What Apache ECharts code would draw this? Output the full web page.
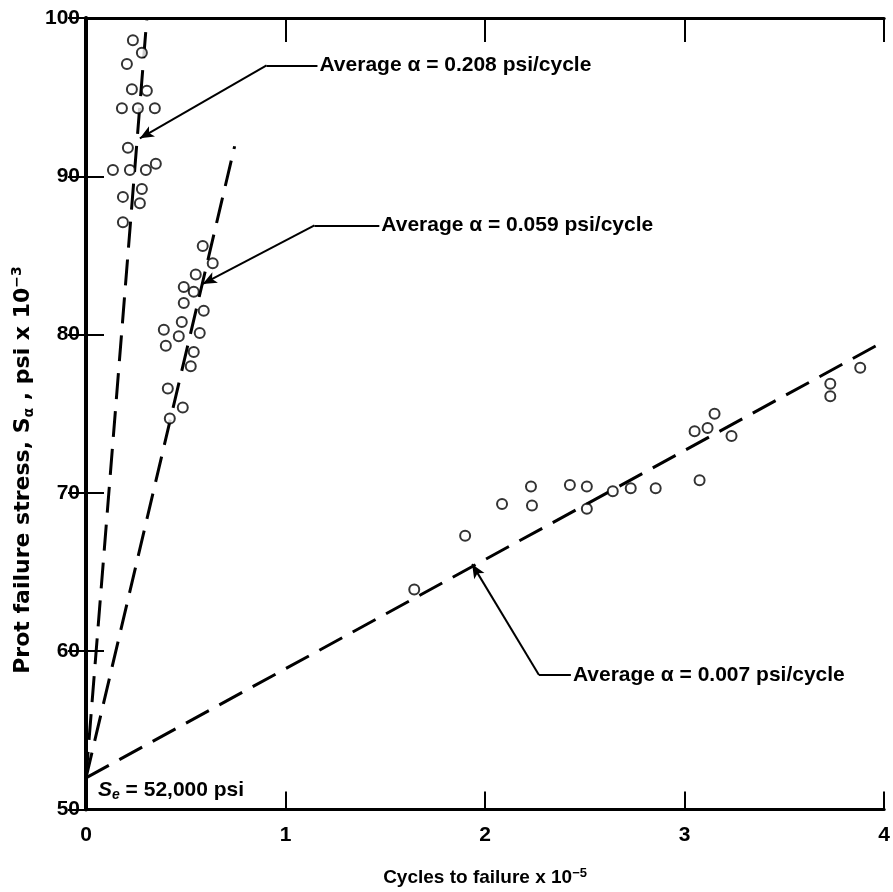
<!DOCTYPE html>
<html>
<head>
<meta charset="utf-8">
<script src="https://cdn.jsdelivr.net/npm/echarts@6/dist/echarts.min.js"></script>
<style>
  html, body { margin: 0; padding: 0; background: #fff; }
  #chart { width: 893px; height: 892px; }
</style>
</head>
<body>
<div id="chart"></div>
<script>
// cycles x 1e-5, stress in ksi
const xTicks = [0, 1, 2, 3, 4]
const yTicks = [50, 60, 70, 80, 90, 100]

const pointsSteep = [
  [0.235, 98.6], [0.28, 97.8], [0.205, 97.1], [0.23, 95.5], [0.305, 95.4],
  [0.18, 94.3], [0.26, 94.3], [0.345, 94.3], [0.21, 91.8],
  [0.135, 90.4], [0.22, 90.4], [0.30, 90.4], [0.35, 90.8],
  [0.28, 89.2], [0.185, 88.7], [0.27, 88.3], [0.185, 87.1]
]
const pointsMid = [
  [0.585, 85.6], [0.635, 84.5], [0.55, 83.8], [0.49, 83.0], [0.54, 82.7],
  [0.49, 82.0], [0.59, 81.5], [0.48, 80.8], [0.39, 80.3], [0.465, 79.9],
  [0.57, 80.1], [0.40, 79.3], [0.54, 78.9], [0.525, 78.0], [0.41, 76.6],
  [0.485, 75.4], [0.42, 74.7]
]
const pointsFlat = [
  [3.88, 77.9], [3.73, 76.9], [3.73, 76.1], [3.15, 75.0], [3.115, 74.1],
  [3.05, 73.9], [3.235, 73.6], [3.075, 70.8], [2.23, 70.4], [2.425, 70.5],
  [2.51, 70.4], [2.085, 69.3], [2.235, 69.2], [2.51, 69.0], [2.64, 70.1],
  [2.73, 70.3], [2.855, 70.3], [1.90, 67.3], [1.645, 63.9]
]

const fitSteep = [[0, 52], [0.305, 100]]
const fitMid = [[0, 52], [0.745, 91.9]]
const fitFlat = [[0, 52], [3.96, 79.3]]

const noteTexts = [
  'Average α = 0.208 psi/cycle',
  'Average α = 0.059 psi/cycle',
  'Average α = 0.007 psi/cycle'
]
// text start, elbow, arrow tip
const leaders = [
  [[1.16, 97.0], [0.905, 97.0], [0.27, 92.4]],
  [[1.47, 86.9], [1.145, 86.9], [0.585, 83.2]],
  [[2.43, 58.5], [2.27, 58.5], [1.935, 65.5]]
]
const enduranceLabel = [0.06, 51.2]

const font = "'Liberation Sans', Arial, sans-serif"
const wideFont = "'DejaVu Sans', Verdana, sans-serif"

const chart = echarts.init(document.getElementById('chart'))

const axisLineStyle = { color: '#000', width: 3 }
const tickLabel = { color: '#000', fontFamily: font, fontWeight: 'bold', fontSize: 21 }

function dashed(data) {
  return {
    type: 'line',
    data,
    symbol: 'none',
    silent: true,
    lineStyle: { color: '#000', width: 3, type: [26, 12] },
    z: 2
  }
}

function scatter(data) {
  return {
    type: 'scatter',
    data,
    symbol: 'circle',
    symbolSize: 10,
    itemStyle: { color: '#fff', borderColor: '#000', borderWidth: 2 },
    z: 3
  }
}

const leaderLines = []
leaders.forEach((l) => {
  leaderLines.push([
    { coord: l[0], symbol: 'none' },
    { coord: l[1], symbol: 'none' }
  ])
  leaderLines.push([
    { coord: l[1], symbol: 'none' },
    { coord: l[2], symbol: 'arrow' }
  ])
})

const option = {
  animation: false,
  backgroundColor: '#fff',
  grid: { left: 86, right: 6, top: 18, bottom: 80 },
  xAxis: [{
    type: 'value',
    min: 0, max: 4, interval: 1,
    axisLine: { lineStyle: axisLineStyle },
    axisTick: { inside: true, length: 18, lineStyle: { color: '#000', width: 2 } },
    axisLabel: { ...tickLabel, margin: 15 },
    splitLine: { show: false },
    name: '{t|Cycles to failure x 10}{s|−5}',
    nameLocation: 'middle',
    nameGap: 57,
    nameTextStyle: {
      rich: {
        t: { fontFamily: font, fontWeight: 'bold', fontSize: 19, color: '#000', lineHeight: 22 },
        s: { fontFamily: font, fontWeight: 'bold', fontSize: 13, color: '#000', verticalAlign: 'top', lineHeight: 22 }
      }
    }
  }, {
    type: 'value',
    position: 'top',
    min: 0, max: 4, interval: 1,
    axisLine: { lineStyle: axisLineStyle },
    axisTick: { inside: true, length: 24, lineStyle: { color: '#000', width: 2 } },
    axisLabel: { show: false },
    splitLine: { show: false }
  }],
  yAxis: [{
    type: 'value',
    min: 50, max: 100, interval: 10,
    axisLine: { lineStyle: { color: '#000', width: 4 } },
    axisTick: { inside: true, length: 18, lineStyle: { color: '#000', width: 2 } },
    axisLabel: { ...tickLabel, margin: 6 },
    splitLine: { show: false }
  }, {
    type: 'value',
    position: 'right',
    min: 50, max: 100, interval: 10,
    axisLine: { lineStyle: axisLineStyle },
    axisTick: { inside: true, length: 18, lineStyle: { color: '#000', width: 2 } },
    axisLabel: { show: false },
    splitLine: { show: false }
  }],
  series: [
    dashed(fitSteep),
    dashed(fitMid),
    dashed(fitFlat),
    scatter(pointsSteep),
    scatter(pointsMid),
    scatter(pointsFlat),
    {
      type: 'line',
      data: [],
      silent: true,
      markLine: {
        silent: true,
        symbolSize: [9, 14],
        label: { show: false },
        lineStyle: { color: '#000', width: 2, type: 'solid' },
        data: leaderLines
      },
      z: 4
    }
  ]
}

chart.setOption(option)

// texts placed at data coordinates
const textStyle = { fontFamily: font, fontWeight: 'bold', fontSize: 21, fill: '#000' }
const graphics = [{
  type: 'text',
  x: 23,
  y: 470,
  rotation: Math.PI / 2,
  style: {
    text: '{t|Prot failure stress, S}{b|α}{t| , psi x 10}{s|−3}',
    align: 'center',
    verticalAlign: 'middle',
    rich: {
      t: { fontFamily: wideFont, fontWeight: 'bold', fontSize: 22, fill: '#000', lineHeight: 26 },
      b: { fontFamily: wideFont, fontWeight: 'bold', fontSize: 14, fill: '#000', verticalAlign: 'bottom', lineHeight: 26 },
      s: { fontFamily: wideFont, fontWeight: 'bold', fontSize: 14, fill: '#000', verticalAlign: 'top', lineHeight: 26 }
    }
  }
}]
leaders.forEach((l, i) => {
  const p = chart.convertToPixel({ gridIndex: 0 }, l[0])
  graphics.push({
    type: 'text',
    x: p[0] + 2,
    y: p[1],
    style: { ...textStyle, text: noteTexts[i], align: 'left', verticalAlign: 'middle' }
  })
})
const sp = chart.convertToPixel({ gridIndex: 0 }, enduranceLabel)
graphics.push({
  type: 'text',
  x: sp[0],
  y: sp[1],
  style: {
    text: '{i|S}{e|e}{t| = 52,000 psi}',
    align: 'left',
    verticalAlign: 'middle',
    rich: {
      i: { ...textStyle, fontStyle: 'italic', lineHeight: 24 },
      e: { ...textStyle, fontStyle: 'italic', fontSize: 14, verticalAlign: 'bottom', lineHeight: 24 },
      t: { ...textStyle, lineHeight: 24 }
    }
  }
})
chart.setOption({ graphic: graphics })
</script>
</body>
</html>
